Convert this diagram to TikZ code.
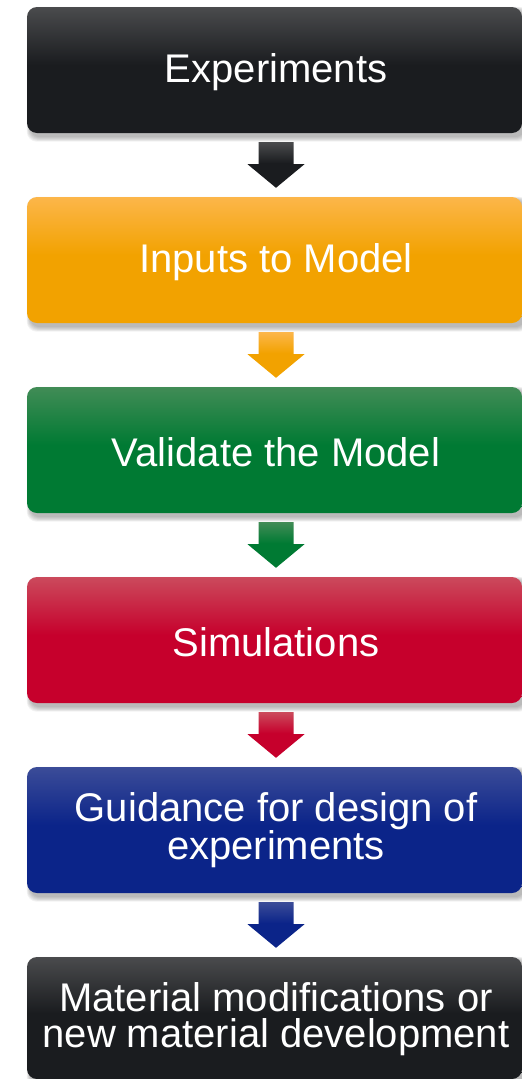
\documentclass[tikz,border=0pt]{standalone}
\usepackage{fontspec}
\setmainfont{Liberation Sans}
\usetikzlibrary{calc}

% colour pairs (light top, dark body) for each stage
\definecolor{blkL}{HTML}{4A4B4D}\definecolor{blkD}{HTML}{1A1C1F}
\definecolor{orgL}{HTML}{FCB64A}\definecolor{orgD}{HTML}{F2A200}
\definecolor{grnL}{HTML}{418C56}\definecolor{grnD}{HTML}{007A33}
\definecolor{redL}{HTML}{CB4A5C}\definecolor{redD}{HTML}{C6002C}
\definecolor{bluL}{HTML}{3B4C98}\definecolor{bluD}{HTML}{0B2489}

\pgfdeclareverticalshading{sblk}{100bp}{color(0bp)=(blkD); color(52bp)=(blkD); color(75bp)=(blkL); color(100bp)=(blkL)}
\pgfdeclareverticalshading{sorg}{100bp}{color(0bp)=(orgD); color(52bp)=(orgD); color(75bp)=(orgL); color(100bp)=(orgL)}
\pgfdeclareverticalshading{sgrn}{100bp}{color(0bp)=(grnD); color(52bp)=(grnD); color(75bp)=(grnL); color(100bp)=(grnL)}
\pgfdeclareverticalshading{sred}{100bp}{color(0bp)=(redD); color(52bp)=(redD); color(75bp)=(redL); color(100bp)=(redL)}
\pgfdeclareverticalshading{sblu}{100bp}{color(0bp)=(bluD); color(52bp)=(bluD); color(75bp)=(bluL); color(100bp)=(bluL)}

\tikzset{
  stage/.style={rectangle, rounded corners=10pt, minimum width=495pt,
    minimum height=126pt, inner sep=0pt, align=center},
  stagetext/.style={text=white, align=center,
    font=\fontsize{40}{36}\selectfont},
}

% soft shadow behind a named stage box
\newcommand\stageshadow[1]{%
  \foreach \k in {0,1,2,3,4,5}{%
    \fill[black, opacity=0.05, rounded corners=10pt]
      ($(#1.north west)+(3-\k*0.6,3-\k*0.6)$) rectangle ($(#1.south east)+(3+\k*0.8,4+\k*0.9)$);
  }}

% block arrow from one named box down to the next
\newcommand\stagearrow[3]{%
  \shade[shading=#3]
    ($(#1.south)+(-16,9)$) -- ($(#1.south)+(19,9)$) -- ($(#1.south)+(19,31)$)
    -- ($(#1.south)+(30,31)$) -- ($(#2.north)+(1.5,-9)$) -- ($(#1.south)+(-27,31)$)
    -- ($(#1.south)+(-16,31)$) -- cycle;}

\begin{document}
\begin{tikzpicture}[x=1pt,y=-1pt]
\useasboundingbox (0,0) rectangle (522,1079);

% box outlines, used to place the shadows
\path node[stage] (n1) at (274.5,70) {}
      node[stage] (n2) at (274.5,260) {}
      node[stage] (n3) at (274.5,450) {}
      node[stage] (n4) at (274.5,640) {}
      node[stage] (n5) at (274.5,830) {}
      node[stage, minimum height=122pt] (n6) at (274.5,1018) {};
\stageshadow{n1}\stageshadow{n2}\stageshadow{n3}
\stageshadow{n4}\stageshadow{n5}\stageshadow{n6}

% shaded boxes
\node[stage, shade, shading=sblk] (b1) at (n1) {};
\node[stage, shade, shading=sorg] (b2) at (n2) {};
\node[stage, shade, shading=sgrn] (b3) at (n3) {};
\node[stage, shade, shading=sred] (b4) at (n4) {};
\node[stage, shade, shading=sblu] (b5) at (n5) {};
\node[stage, shade, shading=sblk, minimum height=122pt] (b6) at (n6) {};

% labels
\node[stagetext] (t1) at ($(b1)+(1.5,2)$) {Experiments};
\node[stagetext] (t2) at ($(b2)+(1.5,2)$) {Inputs to Model};
\node[stagetext] (t3) at ($(b3)+(1.5,2)$) {Validate the Model};
\node[stagetext] (t4) at ($(b4)+(1.5,2)$) {Simulations};
\node[stagetext] (t5) at ($(b5)+(1.5,0)$) {Guidance for design of\\experiments};
\node[stagetext] (t6) at ($(b6)+(1.5,1)$) {Material modifications or\\new material development};

% arrows between stages
\stagearrow{b1}{b2}{sblk}
\stagearrow{b2}{b3}{sorg}
\stagearrow{b3}{b4}{sgrn}
\stagearrow{b4}{b5}{sred}
\stagearrow{b5}{b6}{sblu}
\end{tikzpicture}
\end{document}
